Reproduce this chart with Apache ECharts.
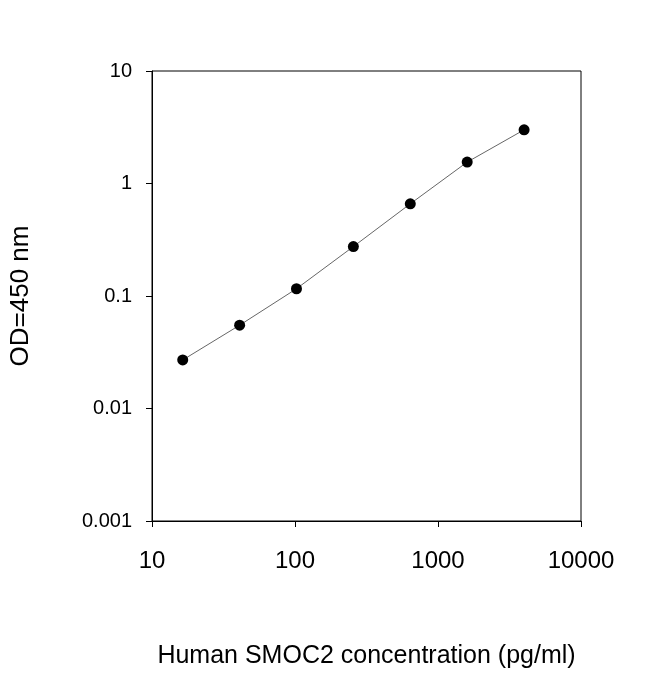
<!DOCTYPE html>
<html><head><meta charset="utf-8">
<script src="https://cdn.jsdelivr.net/npm/echarts@6/dist/echarts.min.js"></script>
<style>html,body{margin:0;padding:0;background:#fff}#c{width:650px;height:674px}</style>
</head><body><div id="c"></div>
<script>
const concentrations = [16.4, 41, 102.4, 256, 640, 1600, 4000];
const odValues = [0.027, 0.055, 0.116, 0.275, 0.66, 1.55, 3.0];
const xTicks = [10, 100, 1000, 10000];
const yTicks = [0.001, 0.01, 0.1, 1, 10];
const data = concentrations.map((c, i) => [c, odValues[i]]);
const pick = (arr, v) => { const t = arr.find(a => Math.abs(Math.log10(a) - Math.log10(v)) < 1e-6); return t === undefined ? '' : String(t); };
const chart = echarts.init(document.getElementById('c'));
chart.setOption({
  animation: false,
  grid: {left: 152, right: 69, top: 71, bottom: 143, show: true, borderColor: '#000', borderWidth: 1},
  xAxis: {
    type: 'log', logBase: 10, min: 10, max: 10000,
    name: 'Human SMOC2 concentration (pg/ml)', nameLocation: 'middle', nameGap: 123,
    nameTextStyle: {fontFamily: 'Arial, Liberation Sans', fontSize: 25, color: '#000'},
    axisLine: {lineStyle: {color: '#000'}},
    axisTick: {show: true, length: 6, lineStyle: {color: '#000'}},
    minorTick: {show: false},
    splitLine: {show: false},
    axisLabel: {fontFamily: 'Arial, Liberation Sans', fontSize: 24, color: '#000', margin: 28,
      formatter: v => pick(xTicks, v)}
  },
  yAxis: {
    type: 'log', logBase: 10, min: 0.001, max: 10,
    name: 'OD=450 nm', nameLocation: 'middle', nameGap: 118,
    nameTextStyle: {fontFamily: 'Arial, Liberation Sans', fontSize: 26, color: '#000'},
    axisLine: {lineStyle: {color: '#000'}},
    axisTick: {show: true, length: 6, lineStyle: {color: '#000'}},
    splitLine: {show: false},
    axisLabel: {fontFamily: 'Arial, Liberation Sans', fontSize: 20, color: '#000', margin: 20,
      formatter: v => pick(yTicks, v)}
  },
  series: [{
    type: 'line', data: data, symbol: 'circle', symbolSize: 11,
    itemStyle: {color: '#000'}, lineStyle: {color: '#666', width: 1}
  }]
});
</script></body></html>
